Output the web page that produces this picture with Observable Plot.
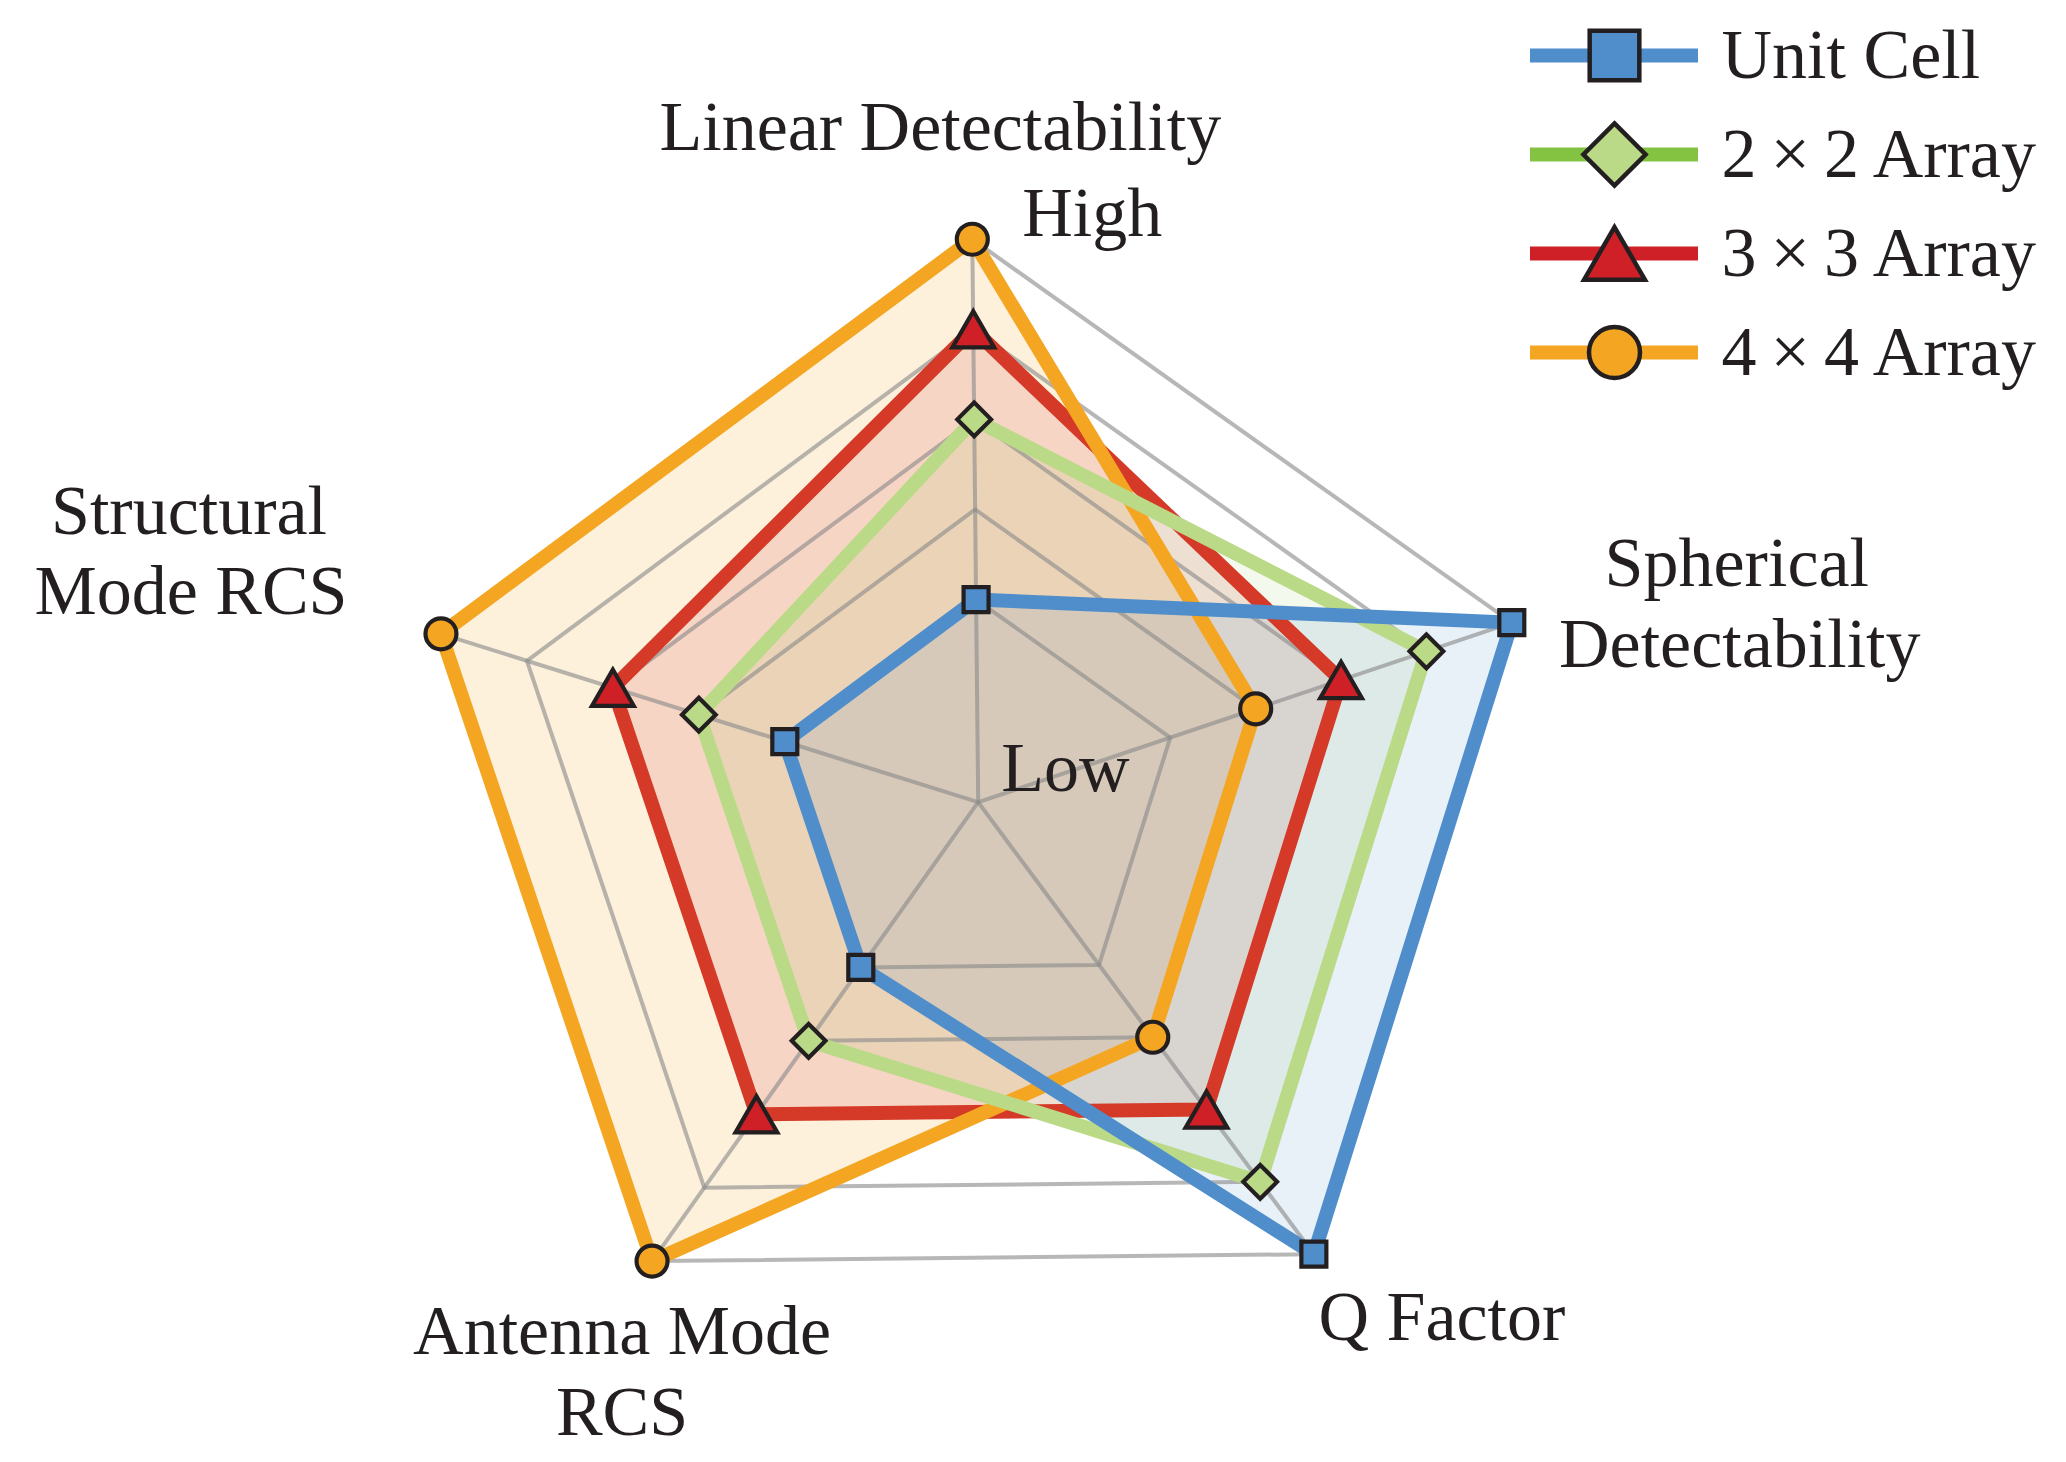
<!DOCTYPE html>
<html>
<head>
<meta charset="utf-8">
<script src="https://cdn.jsdelivr.net/npm/d3@7"></script>
<script src="https://cdn.jsdelivr.net/npm/@observablehq/plot@0.6"></script>
<style>
  html, body { margin: 0; padding: 0; background: #fff; }
  #wrap { position: relative; width: 2066px; height: 1462px; overflow: hidden; }
  #chart svg, #legend svg { display: block; }
  #legend { position: absolute; left: 1480px; top: 0; }
</style>
</head>
<body>
<div id="wrap"><div id="chart"></div><div id="legend"></div></div>
<script>
// ---------- data ----------
const axes = ["Linear Detectability", "Spherical Detectability", "Q Factor", "Antenna Mode RCS", "Structural Mode RCS"];
const seriesNames = ["Unit Cell", "2×2 Array", "3×3 Array", "4×4 Array"];
const unitCell = [1, 5, 5, 1, 1];
const array2x2 = [3, 4, 4, 2, 2];
const array3x3 = [4, 3, 3, 3, 3];
const array4x4 = [5, 2, 2, 5, 5];
const levels = [1, 2, 3, 4, 5];
const levelLabels = ["Low", "High"];

// ---------- styles ----------
const values = [unitCell, array2x2, array3x3, array4x4];
const lineColors = ["#4F8ECB", "#BADA88", "#D43A27", "#F4A623"];
const legendLineColors = ["#4F8DCB", "#84C241", "#D02027", "#F4A623"];
const markerFills = ["#4F8DCB", "#BADA88", "#D02027", "#F4A623"];
const fillColors = ["#4F8ECB", "#86C440", "#D02027", "#F4A623"];
const fillOpacities = [0.13, 0.1, 0.13, 0.16];
const ink = "#231F20";

// triangle centred on its bounding box
const triangleC = {
  draw(context, size) {
    const y = Math.sqrt(size / (Math.sqrt(3) * 3));
    const s = 0.5 * y;
    context.moveTo(0, -2 * y + s);
    context.lineTo(-Math.sqrt(3) * y, y + s);
    context.lineTo(Math.sqrt(3) * y, y + s);
    context.closePath();
  }
};
const symbols = ["square", "diamond2", triangleC, "circle"];
const markerR = [14.1, 15.2, 15.5, 15.5];
const legendR = [28, 28, 22.6, 25.5];

// ---------- geometry (polar -> data units) ----------
const rot = 0.6;
const angle = i => (90 - 72 * i + rot) * Math.PI / 180;
const radius = level => (level + 1.25) / 6.25;
const polarX = (level, i) => radius(level) * Math.cos(angle(i));
const polarY = (level, i) => radius(level) * Math.sin(angle(i));

const seriesRows = seriesNames.map((s, k) =>
  axes.map((a, i) => ({series: s, axis: a, level: values[k][i], x: polarX(values[k][i], i), y: polarY(values[k][i], i)}))
);
const ringRows = levels.flatMap(l => axes.map((a, i) => ({level: l, axis: a, x: polarX(l, i), y: polarY(l, i)})));
const outer = axes.map((a, i) => ({axis: a, x1: 0, y1: 0, x2: polarX(d3.max(levels), i), y2: polarY(d3.max(levels), i)}));

const W = 2066, H = 1462, R = 563, cx = 977.7, cy = 801.7;

const marks = [];
// fills
[3, 2, 1, 0].forEach(k => {
  marks.push(Plot.line(seriesRows[k], {x: "x", y: "y", curve: "linear-closed", fill: fillColors[k], fillOpacity: fillOpacities[k], stroke: "none"}));
});
// grid
marks.push(Plot.line(ringRows, {x: "x", y: "y", z: "level", curve: "linear-closed", stroke: "#8a8a8a", strokeOpacity: 0.62, strokeWidth: 4}));
marks.push(Plot.link(outer, {x1: "x1", y1: "y1", x2: "x2", y2: "y2", stroke: "#8a8a8a", strokeOpacity: 0.62, strokeWidth: 4}));
// lines
[2, 3, 1, 0].forEach(k => {
  marks.push(Plot.line(seriesRows[k], {x: "x", y: "y", curve: "linear-closed", stroke: lineColors[k], strokeWidth: 14, strokeLinejoin: "round"}));
});
// markers
[0, 1, 2, 3].forEach(k => {
  marks.push(Plot.dot(seriesRows[k], {x: "x", y: "y", symbol: symbols[k], r: markerR[k], fill: markerFills[k], stroke: ink, strokeWidth: 4.2}));
});

// axis labels, anchored at outer vertices
const outerPt = i => [{x: polarX(5, i), y: polarY(5, i)}];
const label = (pts, text, dx, dy, anchor = "middle") =>
  Plot.text(pts, {x: "x", y: "y", text: () => text, dx, dy, textAnchor: anchor, fontSize: 70, fill: ink, lineAnchor: "middle"});
marks.push(label(outerPt(0), axes[0], -32, -112));
marks.push(label(outerPt(0), levelLabels[1], 50, -26, "start"));
marks.push(label(outerPt(1), "Spherical", 225, -59.5));
marks.push(label(outerPt(1), "Detectability", 228, 21.5));
marks.push(label(outerPt(2), axes[2], 128, 63));
marks.push(label(outerPt(3), "Antenna Mode", -30, 70));
marks.push(label(outerPt(3), "RCS", -30, 151));
marks.push(label(outerPt(4), "Structural", -252, -122));
marks.push(label(outerPt(4), "Mode RCS", -250, -42));
marks.push(label([{x: 0, y: 0}], levelLabels[0], 23, -34, "start"));

const chart = Plot.plot({
  width: W, height: H, margin: 0,
  x: {domain: [-cx / R, (W - cx) / R], axis: null},
  y: {domain: [-(H - cy) / R, cy / R], axis: null},
  style: {fontFamily: "'Liberation Serif', serif", background: "#fff", color: ink},
  marks
});
document.getElementById("chart").appendChild(chart);

// ---------- legend ----------
const legendMarks = [];
seriesNames.forEach((s, k) => {
  legendMarks.push(Plot.ruleY([s], {y: d => d, x1: 50, x2: 218, stroke: legendLineColors[k], strokeWidth: 14}));
  legendMarks.push(Plot.dot([s], {y: d => d, x: 134, symbol: symbols[k], r: legendR[k], fill: markerFills[k], stroke: ink, strokeWidth: 4.5}));
  legendMarks.push(Plot.text([s], {y: d => d, x: 241, text: d => d.replace("×", "\u2009×\u2009"), textAnchor: "start", fontSize: 70, fill: ink, lineAnchor: "middle"}));
});
const legend = Plot.plot({
  width: 586, height: 400, margin: 0,
  x: {domain: [0, 586], axis: null},
  y: {type: "point", domain: seriesNames, range: [54, 352], padding: 0, axis: null},
  style: {fontFamily: "'Liberation Serif', serif", background: "transparent", color: ink},
  marks: legendMarks
});
document.getElementById("legend").appendChild(legend);
</script>
</body>
</html>
